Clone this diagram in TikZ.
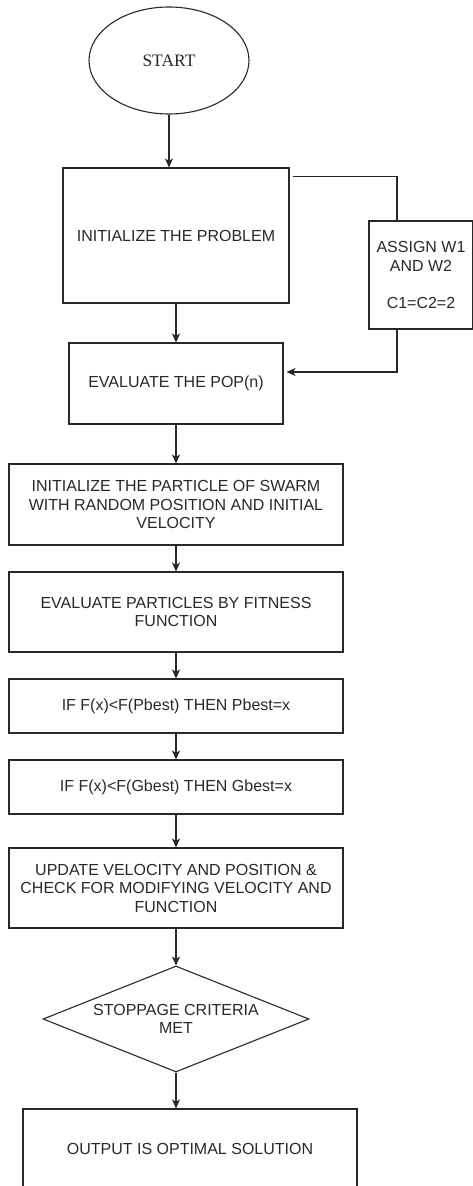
\documentclass[tikz,border=0pt]{standalone}
\usepackage{fontspec}
\setmainfont{Liberation Sans}
\newfontfamily\startfont{Liberation Serif}
\usetikzlibrary{arrows.meta,shapes.geometric}
\definecolor{inkgray}{RGB}{40, 40, 40}

\tikzset{
    flowtext/.style={font=\fontsize{16}{18.5}\selectfont, text=inkgray, align=center},
    procbox/.style={draw=inkgray, line width=1.1pt, rectangle, flowtext, inner sep=0pt},
    decision/.style={draw=inkgray, line width=1.1pt, diamond, aspect=2.5, flowtext, inner sep=0pt},
    terminal/.style={draw=inkgray, line width=1.1pt, ellipse, flowtext, inner sep=0pt},
    flowarrow/.style={draw=inkgray, line width=1.1pt, -{Stealth[length=9pt, width=8pt, inset=2.5pt]}},
    flowline/.style={draw=inkgray, line width=1.1pt}
}

\begin{document}
\begin{tikzpicture}[x=1pt, y=-1pt]
    \useasboundingbox (0,0) rectangle (472,1186);

    % Start and set-up of the swarm
    \node[terminal, minimum width=160pt, minimum height=107pt] (start) at (169,60.5) {\startfont\fontsize{17.5}{20}\selectfont START};
    \node[procbox, minimum width=226pt, minimum height=135pt] (init) at (176,235.5) {INITIALIZE THE PROBLEM};
    \node[procbox, minimum width=104pt, minimum height=108pt] (assign) at (421,275) {ASSIGN W1\\AND W2\\ \\C1=C2=2};
    \node[procbox, minimum width=214pt, minimum height=81pt] (pop) at (176,383.5) {EVALUATE THE POP(n)};

    % Main loop
    \node[procbox, minimum width=334pt, minimum height=81pt] (swarm) at (176,504.5) {INITIALIZE THE PARTICLE OF SWARM\\WITH RANDOM POSITION AND INITIAL\\VELOCITY};
    \node[procbox, minimum width=334pt, minimum height=80pt] (fitness) at (176,612) {EVALUATE PARTICLES BY FITNESS\\FUNCTION};
    \node[procbox, minimum width=334pt, minimum height=54pt] (pbest) at (176,706) {IF F(x)<F(Pbest) THEN Pbest=x};
    \node[procbox, minimum width=334pt, minimum height=54pt] (gbest) at (176,787) {IF F(x)<F(Gbest) THEN Gbest=x};
    \node[procbox, minimum width=334pt, minimum height=80pt] (update) at (176,888) {UPDATE VELOCITY AND POSITION \&\\CHECK FOR MODIFYING VELOCITY AND\\FUNCTION};
    \node[decision, minimum width=266pt, minimum height=106pt] (stop) at (176,1019) {STOPPAGE CRITERIA\\MET};
    \node[procbox, minimum width=334pt, minimum height=80pt] (output) at (190,1149) {OUTPUT IS OPTIMAL SOLUTION};

    % Connectors
    \draw[flowarrow] (start.south) -- (start.south |- init.north);
    \draw[flowarrow] (init) -- (pop);
    \draw[flowline, shorten <=3pt] ([yshift=-9pt]init.north east) -| ([xshift=-24pt]assign.north);
    \draw[flowarrow, shorten >=3pt] ([xshift=-24pt]assign.south) |- ([yshift=11.5pt]pop.east);
    \draw[flowarrow] (pop) -- (swarm);
    \draw[flowarrow] (swarm) -- (fitness);
    \draw[flowarrow] (fitness) -- (pbest);
    \draw[flowarrow] (pbest) -- (gbest);
    \draw[flowarrow] (gbest) -- (update);
    \draw[flowarrow] (update) -- (stop);
    \draw[flowarrow] (stop.south) -- (stop.south |- output.north);
\end{tikzpicture}
\end{document}
